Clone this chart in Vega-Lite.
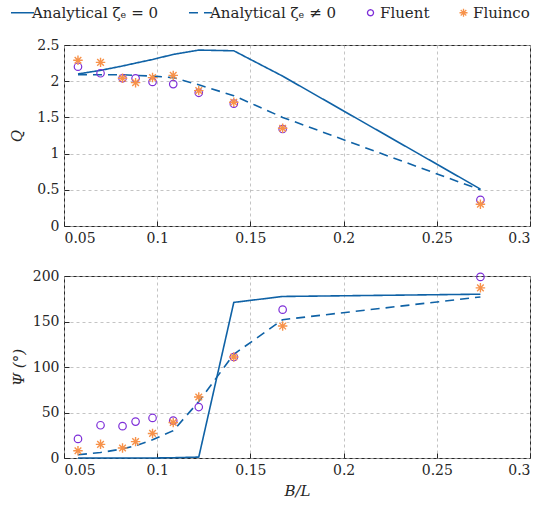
{
  "$schema": "https://vega.github.io/schema/vega-lite/v6.json",
  "padding": {"left": 9, "top": 5, "right": 5, "bottom": 5},
  "background": "white",
  "config": {
    "font": "DejaVu Serif",
    "view": {"stroke": "#262626", "strokeWidth": 1},
    "axis": {
      "labelFont": "DejaVu Serif", "labelFontSize": 14, "labelColor": "#262626",
      "titleFont": "DejaVu Serif", "titleFontSize": 15, "titleFontWeight": "normal", "titleColor": "#262626", "titleFontStyle": "italic",
      "domain": false, "tickSize": -5, "tickColor": "#262626", "labelPadding": 10, "labelOverlap": false,
      "gridColor": "#b5b5b5", "gridDash": [3, 3], "gridWidth": 0.8
    },
    "legend": {"labelFont": "DejaVu Serif", "labelFontSize": 15, "labelColor": "#262626"}
  },
  "data": {"values": [
    {"x": 0.0575, "series": "Analytical ζₑ = 0", "Q": 2.10, "Psi": 0},
    {"x": 0.0696, "series": "Analytical ζₑ = 0", "Q": 2.15, "Psi": 0},
    {"x": 0.0814, "series": "Analytical ζₑ = 0", "Q": 2.21, "Psi": 0},
    {"x": 0.0884, "series": "Analytical ζₑ = 0", "Q": 2.25, "Psi": 0},
    {"x": 0.0975, "series": "Analytical ζₑ = 0", "Q": 2.30, "Psi": 0},
    {"x": 0.1086, "series": "Analytical ζₑ = 0", "Q": 2.37, "Psi": 0.3},
    {"x": 0.1223, "series": "Analytical ζₑ = 0", "Q": 2.43, "Psi": 1},
    {"x": 0.1411, "series": "Analytical ζₑ = 0", "Q": 2.42, "Psi": 171},
    {"x": 0.1673, "series": "Analytical ζₑ = 0", "Q": 2.07, "Psi": 177.5},
    {"x": 0.2734, "series": "Analytical ζₑ = 0", "Q": 0.51, "Psi": 180},
    {"x": 0.0575, "series": "Analytical ζₑ ≠ 0", "Q": 2.09, "Psi": 3.6},
    {"x": 0.0696, "series": "Analytical ζₑ ≠ 0", "Q": 2.09, "Psi": 6},
    {"x": 0.0814, "series": "Analytical ζₑ ≠ 0", "Q": 2.09, "Psi": 10},
    {"x": 0.0884, "series": "Analytical ζₑ ≠ 0", "Q": 2.08, "Psi": 13.5},
    {"x": 0.0975, "series": "Analytical ζₑ ≠ 0", "Q": 2.07, "Psi": 20},
    {"x": 0.1086, "series": "Analytical ζₑ ≠ 0", "Q": 2.05, "Psi": 30},
    {"x": 0.1223, "series": "Analytical ζₑ ≠ 0", "Q": 1.95, "Psi": 62},
    {"x": 0.1411, "series": "Analytical ζₑ ≠ 0", "Q": 1.80, "Psi": 114},
    {"x": 0.1673, "series": "Analytical ζₑ ≠ 0", "Q": 1.50, "Psi": 152},
    {"x": 0.2734, "series": "Analytical ζₑ ≠ 0", "Q": 0.50, "Psi": 177},
    {"x": 0.0575, "series": "Fluent", "Q": 2.20, "Psi": 21},
    {"x": 0.0696, "series": "Fluent", "Q": 2.11, "Psi": 36},
    {"x": 0.0814, "series": "Fluent", "Q": 2.04, "Psi": 35},
    {"x": 0.0884, "series": "Fluent", "Q": 2.04, "Psi": 40},
    {"x": 0.0975, "series": "Fluent", "Q": 1.99, "Psi": 44},
    {"x": 0.1086, "series": "Fluent", "Q": 1.96, "Psi": 41},
    {"x": 0.1223, "series": "Fluent", "Q": 1.84, "Psi": 56},
    {"x": 0.1411, "series": "Fluent", "Q": 1.69, "Psi": 111},
    {"x": 0.1673, "series": "Fluent", "Q": 1.34, "Psi": 163},
    {"x": 0.2734, "series": "Fluent", "Q": 0.36, "Psi": 199},
    {"x": 0.0575, "series": "Fluinco", "Q": 2.29, "Psi": 8},
    {"x": 0.0696, "series": "Fluinco", "Q": 2.26, "Psi": 15},
    {"x": 0.0814, "series": "Fluinco", "Q": 2.04, "Psi": 11},
    {"x": 0.0884, "series": "Fluinco", "Q": 1.98, "Psi": 18},
    {"x": 0.0975, "series": "Fluinco", "Q": 2.05, "Psi": 27},
    {"x": 0.1086, "series": "Fluinco", "Q": 2.08, "Psi": 39},
    {"x": 0.1223, "series": "Fluinco", "Q": 1.87, "Psi": 67},
    {"x": 0.1411, "series": "Fluinco", "Q": 1.71, "Psi": 111},
    {"x": 0.1673, "series": "Fluinco", "Q": 1.35, "Psi": 145},
    {"x": 0.2734, "series": "Fluinco", "Q": 0.30, "Psi": 187}
  ]},
  "vconcat": [
    {
      "width": 466, "height": 181,
      "encoding": {
        "x": {"field": "x", "type": "quantitative", "scale": {"domain": [0.05, 0.3], "nice": false}, "axis": {"title": null, "values": [0.05, 0.1, 0.15, 0.2, 0.25, 0.3], "format": ".4~g"}},
        "y": {"field": "Q", "type": "quantitative", "scale": {"domain": [0, 2.5], "nice": false}, "axis": {"title": "Q", "values": [0, 0.5, 1, 1.5, 2, 2.5], "format": ".4~g", "titlePadding": 12}},
        "color": {"field": "series", "type": "nominal", "scale": {"domain": ["Analytical ζₑ = 0", "Analytical ζₑ ≠ 0", "Fluent", "Fluinco"], "range": ["#0F62A6", "#0F62A6", "#7E2FD8", "#F7924A"]},
          "legend": {"title": null, "orient": "none", "legendX": -49, "legendY": -40, "direction": "horizontal", "columns": 4, "columnPadding": 26, "symbolStrokeWidth": 1.6, "labelOffset": 2,
            "encode": {"symbols": {"update": {"size": {"signal": "datum.value === 'Fluent' ? 36 : datum.value === 'Fluinco' ? 64 : 530"}, "strokeWidth": {"signal": "datum.value === 'Fluent' || datum.value === 'Fluinco' ? 1.3 : 1.6"}}}}}
        }
      },
      "layer": [
        {
          "transform": [{"filter": "indexof(datum.series, 'Analytical') === 0"}],
          "mark": {"type": "line", "strokeWidth": 1.6},
          "encoding": {
            "strokeDash": {"field": "series", "type": "nominal", "scale": {"domain": ["Analytical ζₑ = 0", "Analytical ζₑ ≠ 0", "Fluent", "Fluinco"], "range": [[1, 0], [9, 6], [1, 0], [1, 0]]}}
          }
        },
        {
          "transform": [{"filter": "datum.series === 'Fluent'"}],
          "mark": {"type": "point", "filled": false, "strokeWidth": 1.2, "opacity": 1, "size": 56},
          "encoding": {
            "shape": {"field": "series", "type": "nominal", "scale": {"domain": ["Analytical ζₑ = 0", "Analytical ζₑ ≠ 0", "Fluent", "Fluinco"], "range": ["stroke", "stroke", "circle", "M-1,0L1,0M0,-1L0,1M-0.7,-0.7L0.7,0.7M-0.7,0.7L0.7,-0.7"]}}
          }
        },
        {
          "transform": [{"filter": "datum.series === 'Fluinco'"}],
          "mark": {"type": "point", "filled": false, "strokeWidth": 1.4, "opacity": 1, "size": 90},
          "encoding": {
            "shape": {"field": "series", "type": "nominal"}
          }
        }
      ]
    },
    {
      "width": 466, "height": 182,
      "encoding": {
        "x": {"field": "x", "type": "quantitative", "scale": {"domain": [0.05, 0.3], "nice": false}, "axis": {"title": "B/L", "values": [0.05, 0.1, 0.15, 0.2, 0.25, 0.3], "format": ".4~g", "titlePadding": 6}},
        "y": {"field": "Psi", "type": "quantitative", "scale": {"domain": [0, 200], "nice": false}, "axis": {"title": "Ψ (°)", "values": [0, 50, 100, 150, 200], "format": ".4~g", "titlePadding": 6}},
        "color": {"field": "series", "type": "nominal"}
      },
      "layer": [
        {
          "transform": [{"filter": "indexof(datum.series, 'Analytical') === 0"}],
          "mark": {"type": "line", "strokeWidth": 1.6},
          "encoding": {
            "strokeDash": {"field": "series", "type": "nominal"}
          }
        },
        {
          "transform": [{"filter": "datum.series === 'Fluent'"}],
          "mark": {"type": "point", "filled": false, "strokeWidth": 1.2, "opacity": 1, "size": 56},
          "encoding": {
            "shape": {"field": "series", "type": "nominal"}
          }
        },
        {
          "transform": [{"filter": "datum.series === 'Fluinco'"}],
          "mark": {"type": "point", "filled": false, "strokeWidth": 1.4, "opacity": 1, "size": 90},
          "encoding": {
            "shape": {"field": "series", "type": "nominal"}
          }
        }
      ]
    }
  ],
  "spacing": 22
}
